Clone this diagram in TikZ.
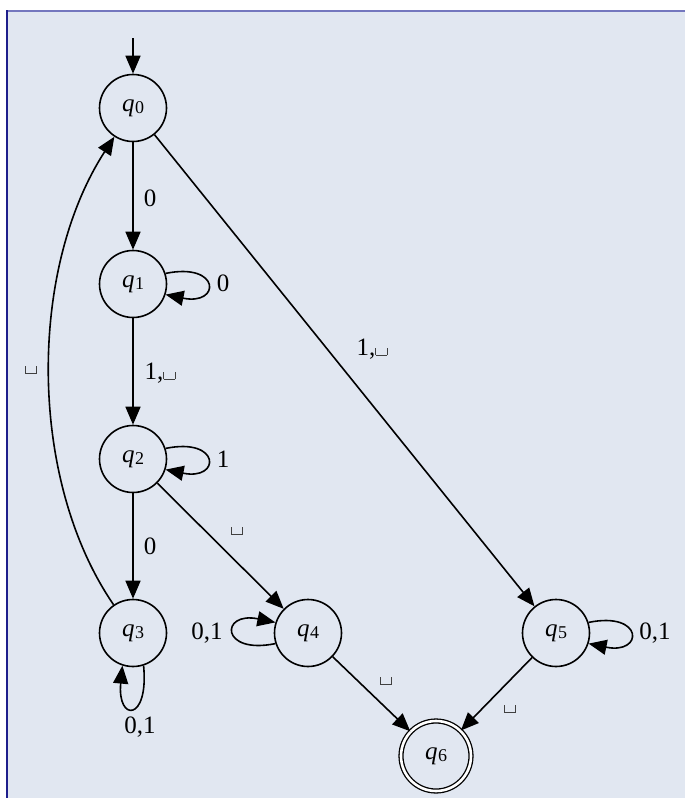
\documentclass[tikz,border=0pt]{standalone}
\usepackage{fontspec}
\setmainfont{Liberation Serif}
\usetikzlibrary{arrows.meta}
\definecolor{bgc}{HTML}{E1E7F1}
\definecolor{topc}{HTML}{7477BE}
\definecolor{leftc}{HTML}{1E1E8C}
\newcommand\blnk{\textcolor{black!75}{\rule{0.8pt}{0.3em}\rule{0.42em}{0.8pt}\rule{0.8pt}{0.3em}}}
\newcommand\stname[1]{\textit{q}\kern0.5pt\raisebox{-0.2ex}{\fontsize{18}{18}\selectfont #1}}
\begin{document}
\begin{tikzpicture}[x=1pt,y=-1pt,font=\fontsize{25}{29}\selectfont,
  state/.style={circle,draw,line width=1.6pt,minimum size=67pt,inner sep=0pt},
  acc/.style={circle,draw,double,double distance=2.6pt,line width=1.3pt,minimum size=70pt,inner sep=0pt},
  edge/.style={line width=1.6pt,-{Triangle[length=18pt,width=15pt]}},
  lbl/.style={inner sep=0pt}]
\useasboundingbox (0,0) rectangle (685,798);
\fill[white] (0,0) rectangle (685,798);
\fill[bgc] (7,11) rectangle (685,798);
\draw[topc,line width=2pt] (7,11) -- (685,11);
\draw[leftc,line width=1.5pt] (7,10) -- (7,798);

\node[state] (q0) at (133,108) {\stname0};
\node[state] (q1) at (133,284) {\stname1};
\node[state] (q2) at (133,459) {\stname2};
\node[state] (q3) at (133,633) {\stname3};
\node[state] (q4) at (308,633) {\stname4};
\node[state] (q5) at (556,633) {\stname5};
\node[acc]   (q6) at (436,756) {\stname6};

\coordinate (init) at (133,38);
\draw[edge] (init) -- (q0);
\draw[edge] (q0) -- (q1);
\draw[edge] (q1) -- (q2);
\draw[edge] (q2) -- (q3);
\draw[edge] (q2) -- (q4);
\draw[edge] (q0) -- (q5);
\draw[edge] (q4) -- (q6);
\draw[edge] (q5) -- (q6);
\draw[edge] (q3) .. controls (28,480) and (28,270) .. (q0);

\draw[edge] (q1.18) .. controls (221,262) and (221,306) .. (q1.-18);
\draw[edge] (q2.18) .. controls (221,437) and (221,481) .. (q2.-18);
\draw[edge] (q5.18) .. controls (644,611) and (644,655) .. (q5.-18);
\draw[edge] (q4.198) .. controls (220,655) and (220,611) .. (q4.162);
\draw[edge] (q3.-72) .. controls (149,722) and (117,722) .. (q3.-108);

\node[lbl] (l01) at (150,198) {0};
\node[lbl] (l11) at (223,283) {0};
\node[lbl] (l12) at (160,373) {1,\blnk};
\node[lbl] (l22) at (223,459) {1};
\node[lbl] (l23) at (150,546) {0};
\node[lbl] (l24) at (237,531) {\blnk};
\node[lbl] (l05) at (372,349) {1,\blnk};
\node[lbl] (l30) at (31,370) {\blnk};
\node[lbl] (l44) at (207,633) {0,1};
\node[lbl] (l55) at (655,633) {0,1};
\node[lbl] (l33) at (140,727) {0,1};
\node[lbl] (l46) at (386,681) {\blnk};
\node[lbl] (l56) at (510,709) {\blnk};
\end{tikzpicture}
\end{document}
